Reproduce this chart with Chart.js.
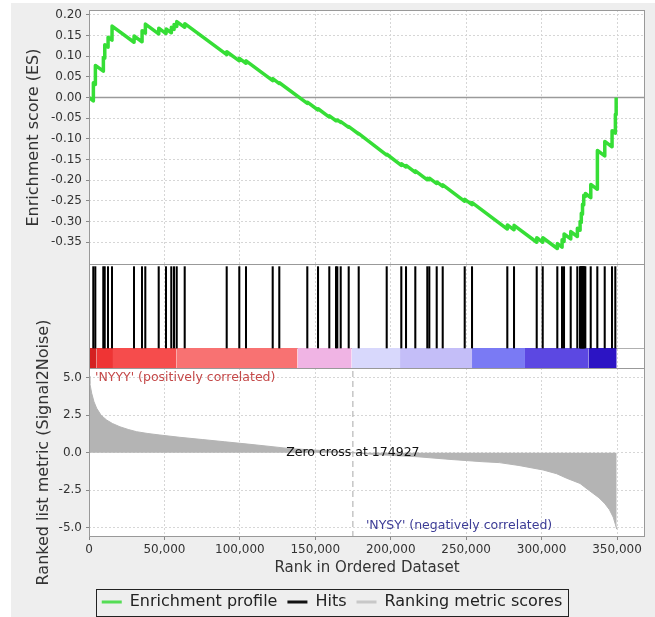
<!DOCTYPE html>
<html>
<head>
<meta charset="utf-8">
<script src="https://cdn.jsdelivr.net/npm/chart.js@4/dist/chart.umd.min.js"></script>
<style>
html,body{margin:0;padding:0;background:#ffffff;width:655px;height:617px;overflow:hidden;}
#bg{position:absolute;left:11px;top:3px;width:644px;height:614px;background:#eeeeee;}
canvas{position:absolute;left:0;}
</style>
</head>
<body>
<div id="bg"></div>
<canvas id="cES" width="655" height="266" style="top:0px"></canvas>
<canvas id="cHits" width="655" height="103" style="top:265px"></canvas>
<canvas id="cMetric" width="655" height="352" style="top:265px"></canvas>
<script>
// ---------------- data ----------------
const xTicks = [0, 50000, 100000, 150000, 200000, 250000, 300000, 350000];
const esTicks = [0.20, 0.15, 0.10, 0.05, 0.00, -0.05, -0.10, -0.15, -0.20, -0.25, -0.30, -0.35];
const metricTicks = [5.0, 2.5, 0.0, -2.5, -5.0];
const zeroCross = 174927;

const esRank = [0, 2850, 2900, 4176, 4230, 9479, 9530, 10407, 10460, 12595, 12650, 15246, 15300,
  29830, 29880, 35133, 35180, 37320, 37370, 46203, 46250, 51042, 51090, 54555, 54600, 56345, 56390,
  58134, 58180, 63438, 63490, 91279, 91330, 99632, 99680, 104072, 104120, 121771, 121820, 126146, 126190,
  144707, 144750, 151800, 151850, 159291, 159340, 163732, 163780, 164594, 164640, 166848, 166890,
  172151, 172200, 178780, 178830, 197344, 197390, 207022, 207070, 210137, 210180, 216302, 216350,
  224257, 224300, 225583, 225630, 230488, 230530, 234466, 234510, 249049, 249090, 253887, 253930,
  277288, 277330, 281729, 281770, 296777, 296820, 300754, 300800, 310432, 310480, 313548, 313600,
  314873, 314920, 319315, 319360, 323690, 323740, 325500, 325540, 326300, 326340, 327100, 327140,
  327900, 327940, 329000, 329040, 332574, 332620, 336950, 337000, 341855, 341900, 346686, 346730,
  348873, 348920, 349400, 349450];
const esValue = [0.000, -0.008, 0.036, 0.032, 0.078, 0.064, 0.097, 0.095, 0.128, 0.122, 0.146, 0.139, 0.173,
  0.134, 0.149, 0.135, 0.162, 0.156, 0.178, 0.154, 0.168, 0.155, 0.166, 0.157, 0.170, 0.165, 0.177,
  0.172, 0.184, 0.170, 0.179, 0.104, 0.111, 0.089, 0.095, 0.083, 0.089, 0.041, 0.046, 0.034, 0.036,
  -0.014, -0.011, -0.030, -0.027, -0.047, -0.044, -0.056, -0.054, -0.056, -0.054, -0.060, -0.058,
  -0.072, -0.070, -0.088, -0.087, -0.139, -0.137, -0.164, -0.160, -0.168, -0.164, -0.181, -0.177,
  -0.199, -0.195, -0.199, -0.195, -0.208, -0.204, -0.215, -0.211, -0.251, -0.246, -0.259, -0.254,
  -0.318, -0.308, -0.320, -0.309, -0.350, -0.339, -0.350, -0.339, -0.365, -0.353, -0.362, -0.344,
  -0.348, -0.330, -0.342, -0.324, -0.336, -0.316, -0.321, -0.300, -0.302, -0.280, -0.282, -0.258,
  -0.260, -0.236, -0.239, -0.232, -0.242, -0.210, -0.222, -0.128, -0.141, -0.106, -0.119, -0.080,
  -0.086, -0.040, -0.041, 0.000];

const hitRanks = [2850, 4176, 9479, 10407, 12595, 15246, 29830, 35133, 37320, 46203, 51042, 54555,
  56345, 58134, 63438, 91279, 99632, 104072, 121771, 126146, 144707, 151800, 159291, 163732, 164594,
  166848, 172151, 178780, 197344, 207022, 210137, 216302, 224257, 225583, 230488, 234466, 249049,
  253887, 277288, 281729, 296777, 300754, 310432, 313548, 314873, 319315, 323690, 325500, 325900,
  326300, 326700, 327100, 327500, 327900, 328400, 329000, 332574, 336950, 341855, 346686, 348873];

const metricRank = [0, 600, 1800, 3300, 5100, 8000, 11700, 15500, 20500, 26000, 31600, 39000, 47000,
  60000, 75000, 90000, 106700, 120000, 131900, 145000, 160000, 174927, 190000, 205000, 218000, 240000,
  261000, 272000, 285000, 301000, 310000, 316600, 325500, 330000, 334000, 338000, 342000, 345000,
  347500, 349000, 349800];
const metricValue = [5.1, 4.6, 3.96, 3.4, 2.96, 2.5, 2.18, 1.95, 1.73, 1.55, 1.4, 1.28, 1.18,
  1.03, 0.88, 0.73, 0.56, 0.42, 0.29, 0.2, 0.12, 0.0, -0.12, -0.2, -0.27, -0.45,
  -0.6, -0.66, -0.85, -1.15, -1.4, -1.7, -2.05, -2.4, -2.7, -3.0, -3.4, -3.8,
  -4.3, -4.8, -5.1];

const bandStart = [0, 5100, 15900, 58100, 138200, 174100, 206200, 253900, 289000, 331000];
const bandEnd = [5100, 15900, 58100, 138200, 174100, 206200, 253900, 289000, 331000, 349800];
const bandColors = ['#d42020', '#ef3434', '#f64c4c', '#f87272', '#f0b4e4', '#d8d8fc', '#c4bef8', '#7a7af4', '#5c48e2', '#2c14c4'];

// ---------------- setup ----------------
const FONT = "'DejaVu Sans', sans-serif";
Chart.defaults.font.family = FONT;
Chart.defaults.color = '#333';
Chart.defaults.animation = false;
Chart.defaults.plugins.tooltip.enabled = false;

const X_MAX = 368560;
const GRID = '#d6d6d6';

function noPad(s) { s.paddingTop = 0; s.paddingBottom = 0; s.paddingLeft = 0; s.paddingRight = 0; }

function framePlugin(sides) {
  return {
    id: 'frame',
    beforeDraw(c) {
      const a = c.chartArea, ctx = c.ctx;
      ctx.save(); ctx.fillStyle = '#ffffff';
      ctx.fillRect(a.left, a.top, a.right - a.left, a.bottom - a.top);
      ctx.restore();
    },
    afterDraw(c) {
      const a = c.chartArea, ctx = c.ctx;
      ctx.save(); ctx.strokeStyle = '#999999'; ctx.lineWidth = 1;
      ctx.beginPath();
      const l = a.left + 0.5, r = a.right - 0.5, t = a.top + 0.5, b = a.bottom - 0.5;
      if (sides.top) { ctx.moveTo(l, t); ctx.lineTo(r, t); }
      if (sides.bottom) { ctx.moveTo(l, b); ctx.lineTo(r, b); }
      ctx.moveTo(l, a.top); ctx.lineTo(l, a.bottom);
      ctx.moveTo(r, a.top); ctx.lineTo(r, a.bottom);
      ctx.stroke(); ctx.restore();
    }
  };
}

function xScale(showTicks, h, extra) {
  return Object.assign({
    type: 'linear', min: 0, max: X_MAX, offset: false,
    afterBuildTicks: s => { s.ticks = xTicks.map(v => ({ value: v })); },
    afterFit: s => { s.height = h; noPad(s); },
    grid: { color: GRID, offset: false, drawTicks: showTicks, tickLength: 3, tickColor: '#888' },
    border: { display: false, dash: [2, 2] },
    ticks: { display: showTicks, color: '#333', font: { size: 12 }, padding: 3, maxRotation: 0,
      callback: v => v.toLocaleString('en-US') }
  }, extra || {});
}

// ---------------- ES chart ----------------
new Chart(document.getElementById('cES'), {
  type: 'line',
  data: {
    datasets: [
      { data: [{ x: 0, y: 0 }, { x: X_MAX, y: 0 }], borderColor: '#9a9a9a', borderWidth: 1.5,
        pointRadius: 0, order: 2 },
      { label: 'Enrichment profile', data: esRank.map((r, i) => ({ x: r, y: esValue[i] })),
        borderColor: '#36de36', borderWidth: 3.5, pointRadius: 0, tension: 0, order: 1,
        borderJoinStyle: 'round' }
    ]
  },
  options: {
    responsive: false,
    layout: { padding: { top: 10, right: 10, left: 0, bottom: 0 } },
    plugins: { legend: { display: false } },
    scales: {
      x: xScale(false, 1),
      y: {
        min: -0.405, max: 0.212,
        afterBuildTicks: s => { s.ticks = esTicks.map(v => ({ value: v })); },
        afterFit: s => { s.width = 89; noPad(s); },
        grid: { color: GRID, tickLength: 3, tickColor: '#888' },
        border: { display: false, dash: [2, 2] },
        ticks: { color: '#333', font: { size: 12 }, padding: 4, callback: v => v.toFixed(2) },
        title: { display: true, text: 'Enrichment score (ES)', color: '#333', font: { size: 16 },
          padding: { top: 24, bottom: 0 } }
      }
    }
  },
  plugins: [framePlugin({ top: true, bottom: true })]
});

// ---------------- hits + colour bar ----------------
const CB_TOP = 0.194, HIT_TOP = 0.984;
const bandSets = bandStart.map((s, i) => ({
  type: 'line',
  data: [{ x: s, y: CB_TOP }, { x: bandEnd[i], y: CB_TOP }],
  borderWidth: 0, borderColor: 'rgba(0,0,0,0)', backgroundColor: bandColors[i],
  fill: { value: 0 }, pointRadius: 0, order: 3
}));
new Chart(document.getElementById('cHits'), {
  type: 'bar',
  data: {
    datasets: [
      { type: 'bar', label: 'Hits', data: hitRanks.map(r => ({ x: r, y: [CB_TOP, HIT_TOP] })),
        backgroundColor: '#000000', borderWidth: 0, barThickness: 1.4, order: 1 }
    ].concat(bandSets)
  },
  options: {
    responsive: false,
    layout: { padding: { top: 0, right: 10, left: 0, bottom: 0 } },
    plugins: { legend: { display: false } },
    scales: {
      x: xScale(false, 0),
      y: {
        type: 'linear', min: 0, max: 1,
        afterBuildTicks: s => { s.ticks = [{ value: CB_TOP }]; },
        afterFit: s => { s.width = 89; noPad(s); },
        grid: { color: '#b0b0b0', drawTicks: false },
        border: { display: false },
        ticks: { display: false }
      }
    }
  },
  plugins: [framePlugin({ top: false, bottom: false })]
});

// ---------------- ranked metric ----------------
const legendEntries = [
  { text: 'Enrichment profile', color: '#55dd55' },
  { text: 'Hits', color: '#111111' },
  { text: 'Ranking metric scores', color: '#c8c8c8' }
];
const notes = {
  id: 'notes',
  afterDatasetsDraw(c) {
    const ctx = c.ctx, xs = c.scales.x, ys = c.scales.y;
    ctx.save();
    ctx.font = "12.5px " + FONT;
    ctx.textBaseline = 'middle';
    ctx.textAlign = 'left';
    ctx.fillStyle = '#c44848';
    ctx.fillText("'NYYY' (positively correlated)", xs.getPixelForValue(0) + 6, ys.getPixelForValue(5.0));
    ctx.fillStyle = '#3c3c96';
    ctx.fillText("'NYSY' (negatively correlated)", xs.getPixelForValue(zeroCross) + 13, ys.getPixelForValue(-4.85));
    ctx.textAlign = 'center';
    ctx.fillStyle = '#111';
    ctx.fillText('Zero cross at ' + zeroCross, xs.getPixelForValue(zeroCross), ys.getPixelForValue(0));
    ctx.restore();
  },
  afterDraw(c) {
    const ctx = c.ctx, ys = c.scales.y;
    ctx.save();
    ctx.translate(44, (ys.top + ys.bottom) / 2);
    ctx.rotate(-Math.PI / 2);
    ctx.font = "16px " + FONT;
    ctx.fillStyle = '#333';
    ctx.textAlign = 'center';
    ctx.textBaseline = 'middle';
    ctx.fillText('Ranked list metric (Signal2Noise)', 0, 0);
    ctx.restore();
    const hb = c.legend.legendHitBoxes;
    if (hb && hb.length) {
      const first = hb[0], last = hb[hb.length - 1];
      ctx.save();
      ctx.strokeStyle = '#222'; ctx.lineWidth = 1;
      const l = Math.round(first.left - 6) + 0.5, r = Math.round(last.left + last.width + 6) + 0.5;
      const t = Math.round(first.top - 5) + 0.5, b = Math.round(first.top + first.height + 6) + 0.5;
      ctx.strokeRect(l, t, r - l, b - t);
      ctx.restore();
    }
  }
};
new Chart(document.getElementById('cMetric'), {
  type: 'line',
  data: {
    datasets: [
      { label: 'Ranking metric scores', data: metricRank.map((r, i) => ({ x: r, y: metricValue[i] })),
        borderColor: '#b4b4b4', borderWidth: 1, backgroundColor: '#b4b4b4', fill: { value: 0 },
        pointRadius: 0, tension: 0, order: 2 },
      { label: 'zero cross', data: [{ x: zeroCross, y: -5.62 }, { x: zeroCross, y: 5.65 }],
        borderColor: '#a8a8a8', borderWidth: 1, borderDash: [6, 4], pointRadius: 0, order: 1 }
    ]
  },
  options: {
    responsive: false,
    layout: { padding: { top: 103, right: 10, left: 19, bottom: -3 } },
    plugins: {
      legend: {
        display: true, position: 'bottom', align: 'center',
        labels: {
          boxWidth: 20, boxHeight: 3, padding: 10, color: '#222', font: { size: 16 },
          generateLabels: () => legendEntries.map((e, i) => ({
            text: e.text, fillStyle: e.color, strokeStyle: e.color, lineWidth: 0,
            hidden: false, datasetIndex: 0, index: i, fontColor: '#222'
          }))
        },
        onClick: () => {}
      }
    },
    scales: {
      x: xScale(true, 47, {
        title: { display: true, text: 'Rank in Ordered Dataset', color: '#333', font: { size: 15 },
          padding: { top: 4, bottom: 7 } }
      }),
      y: {
        min: -5.62, max: 5.65,
        afterBuildTicks: s => { s.ticks = metricTicks.map(v => ({ value: v })); },
        afterFit: s => { s.width = 70; noPad(s); },
        grid: { color: GRID, tickLength: 3, tickColor: '#888' },
        border: { display: false, dash: [2, 2] },
        ticks: { color: '#333', font: { size: 12 }, padding: 4, callback: v => v.toFixed(1) }
      }
    }
  },
  plugins: [framePlugin({ top: true, bottom: true }), notes]
});
</script>
</body>
</html>
